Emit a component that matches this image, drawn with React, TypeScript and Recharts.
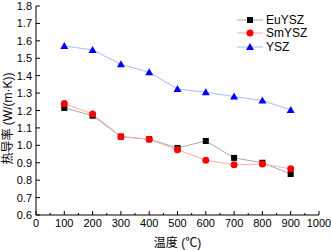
import React from 'react';
import {Legend, Line, LineChart, XAxis, YAxis} from 'recharts';

const temperatures = [100, 200, 300, 400, 500, 600, 700, 800, 900];
const euYSZ = [1.215, 1.17, 1.05, 1.035, 0.985, 1.025, 0.928, 0.9, 0.835];
const smYSZ = [1.24, 1.18, 1.05, 1.035, 0.975, 0.915, 0.888, 0.893, 0.865];
const ysz = [1.57, 1.548, 1.465, 1.42, 1.323, 1.305, 1.28, 1.257, 1.203];

const xTicks = [0, 50, 100, 150, 200, 250, 300, 350, 400, 450, 500, 550, 600, 650, 700, 750, 800, 850, 900, 950, 1000];
const yTicks = [0.6, 0.7, 0.8, 0.9, 1.0, 1.1, 1.2, 1.3, 1.4, 1.5, 1.6, 1.7, 1.8];

const FONT = '"Liberation Sans", Arial, "Noto Sans CJK SC", sans-serif';

const chartData = temperatures.map((t, i) => ({
  temp: t,
  EuYSZ: euYSZ[i],
  SmYSZ: smYSZ[i],
  YSZ: ysz[i],
}));

const series = [
  {name: 'EuYSZ', line: '#aaaaaa', marker: '#000000', shape: 'square'},
  {name: 'SmYSZ', line: '#ffaaaa', marker: '#ff0000', shape: 'circle'},
  {name: 'YSZ', line: '#a8bcff', marker: '#0000ff', shape: 'triangle'},
];

const Marker = ({cx, cy, shape, color}: any) => {
  if (cx == null || cy == null) return null;
  if (shape === 'square') {
    return <rect x={cx - 3} y={cy - 3} width={6} height={6} fill={color}/>;
  }
  if (shape === 'circle') {
    return <circle cx={cx} cy={cy} r={3.5} fill={color}/>;
  }
  return <polygon points={`${cx},${cy - 4} ${cx + 4},${cy + 3} ${cx - 4},${cy + 3}`} fill={color}/>;
};

const XTick = ({x, y, payload}: any) => {
  const major = payload.value % 100 === 0;
  return (
    <g>
      <line x1={x} x2={x} y1={y} y2={y - (major ? 4 : 2)} stroke="#000"/>
      {major && <text x={x} y={y + 12} textAnchor="middle" fontSize={11} fontFamily={FONT} fill="#000">
        {payload.value}
      </text>}
    </g>
  );
};

const YTick = ({x, y, payload}: any) => (
  <g>
    <line x1={x} x2={x + 4} y1={y} y2={y} stroke="#000"/>
    <text x={x - 4} y={y + 4} textAnchor="end" fontSize={11} fontFamily={FONT} fill="#000">
      {payload.value.toFixed(1)}
    </text>
  </g>
);

const LegendContent = () => (
  <div style={{fontFamily: FONT, fontSize: 12}}>
    {series.map((s) => (
      <div key={s.name} style={{display: 'flex', alignItems: 'center', height: 13.5}}>
        <svg width={26} height={12}>
          <line x1={0} x2={26} y1={6} y2={6} stroke={s.line}/>
          <Marker cx={13} cy={6} shape={s.shape} color={s.marker}/>
        </svg>
        <span style={{marginLeft: 3}}>{s.name}</span>
      </div>
    ))}
  </div>
);

const YLabel = ({viewBox}: any) => {
  const cy = viewBox.y + viewBox.height / 2 + 8;
  return (
    <text x={12} y={cy} transform={`rotate(-90 12 ${cy})`} textAnchor="middle" fontSize={12}
          fontFamily={FONT} fill="#000">
      热导率 (W/(m·K))
    </text>
  );
};

const App = () => (
  <div style={{position: 'absolute', left: 0, top: 0, background: '#fff'}}>
    <LineChart width={331} height={250} data={chartData} margin={{top: 6, right: 12, bottom: 0, left: 0}}>
      <XAxis dataKey="temp" type="number" domain={[0, 1000]} ticks={xTicks} interval={0}
             tickLine={false} tickSize={0} tickMargin={0} tick={<XTick/>} height={35}
             stroke="#000"
             label={{value: '温度 (℃)', position: 'insideBottom', offset: 3, fontSize: 12, fontFamily: FONT, fill: '#000'}}/>
      <XAxis xAxisId="top" orientation="top" dataKey="temp" type="number" domain={[0, 1000]}
             tick={false} tickLine={false} height={0} stroke="#000"/>
      <YAxis type="number" domain={[0.6, 1.8]} ticks={yTicks} interval={0} tickLine={false}
             tickSize={0} tickMargin={0} tick={<YTick/>} width={36} stroke="#000"
             label={<YLabel/>}/>
      <YAxis yAxisId="right" orientation="right" domain={[0.6, 1.8]} tick={false} tickLine={false}
             width={0} stroke="#000"/>
      <Legend verticalAlign="middle" align="center" layout="vertical" content={<LegendContent/>}
              wrapperStyle={{position: 'absolute', left: 237, top: 13, width: 90}}/>
      {series.map((s) => (
        <Line key={s.name} dataKey={s.name} stroke={s.line} strokeWidth={1}
              isAnimationActive={false}
              dot={(p: any) => <Marker key={`${s.name}-${p.index}`} cx={p.cx} cy={p.cy} shape={s.shape} color={s.marker}/>}
              activeDot={false}/>
      ))}
    </LineChart>
  </div>
);

export default App;
